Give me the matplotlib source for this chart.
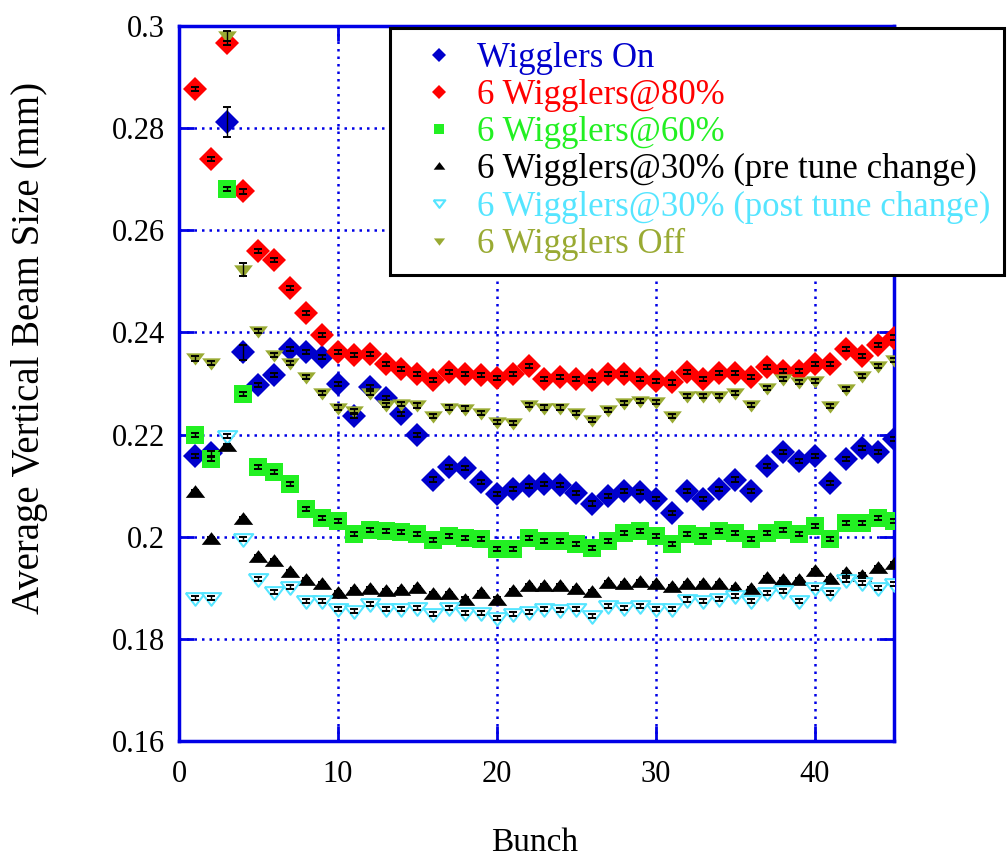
import matplotlib
matplotlib.use("Agg")
import matplotlib.pyplot as plt
import numpy as np

bunch = list(range(1, 46))

wigglers_on = [0.2158, 0.2163, 0.2812, 0.2361, 0.2297, 0.2316, 0.2367, 0.2362, 0.2351, 0.2299,
               0.2237, 0.2294, 0.2271, 0.2240, 0.2200, 0.2112, 0.2137, 0.2134, 0.2108, 0.2084,
               0.2094, 0.2099, 0.2104, 0.2101, 0.2086, 0.2065, 0.2080, 0.2090, 0.2088, 0.2073,
               0.2046, 0.2090, 0.2073, 0.2094, 0.2112, 0.2090, 0.2139, 0.2166, 0.2148, 0.2158,
               0.2105, 0.2153, 0.2173, 0.2166, 0.2191]
w80 = [0.2876, 0.2739, 0.2967, 0.2676, 0.2560, 0.2541, 0.2487, 0.2438, 0.2395, 0.2361,
       0.2356, 0.2358, 0.2338, 0.2328, 0.2318, 0.2307, 0.2322, 0.2318, 0.2316, 0.2310,
       0.2318, 0.2335, 0.2308, 0.2312, 0.2308, 0.2307, 0.2318, 0.2318, 0.2308, 0.2305,
       0.2302, 0.2322, 0.2308, 0.2320, 0.2320, 0.2312, 0.2333, 0.2325, 0.2325, 0.2338,
       0.2338, 0.2367, 0.2353, 0.2375, 0.2390]
w60 = [0.2200, 0.2152, 0.2680, 0.2279, 0.2137, 0.2127, 0.2104, 0.2055, 0.2037, 0.2031,
       0.2006, 0.2014, 0.2011, 0.2009, 0.2006, 0.1993, 0.2001, 0.1998, 0.1995, 0.1976,
       0.1976, 0.1998, 0.1992, 0.1992, 0.1985, 0.1978, 0.1992, 0.2008, 0.2011, 0.2001,
       0.1985, 0.2005, 0.2001, 0.2011, 0.2008, 0.1995, 0.2008, 0.2014, 0.2005, 0.2021,
       0.1996, 0.2027, 0.2027, 0.2037, 0.2031]
w30_pre = [0.2088, 0.1996, 0.2178, 0.2034, 0.1961, 0.1952, 0.1931, 0.1915, 0.1908, 0.1889,
           0.1895, 0.1898, 0.1893, 0.1895, 0.1900, 0.1887, 0.1887, 0.1877, 0.1889, 0.1877,
           0.1893, 0.1903, 0.1903, 0.1903, 0.1898, 0.1891, 0.1910, 0.1907, 0.1911, 0.1907,
           0.1901, 0.1907, 0.1907, 0.1907, 0.1900, 0.1897, 0.1920, 0.1916, 0.1916, 0.1933,
           0.1918, 0.1928, 0.1924, 0.1939, 0.1946]
w30_post = [0.1880, 0.1880, 0.2198, 0.1996, 0.1918, 0.1892, 0.1902, 0.1874, 0.1874, 0.1859,
            0.1854, 0.1869, 0.1858, 0.1859, 0.1861, 0.1848, 0.1861, 0.1851, 0.1851, 0.1841,
            0.1848, 0.1852, 0.1858, 0.1856, 0.1858, 0.1844, 0.1864, 0.1861, 0.1864, 0.1858,
            0.1858, 0.1877, 0.1874, 0.1878, 0.1884, 0.1874, 0.1889, 0.1893, 0.1874, 0.1900,
            0.1890, 0.1916, 0.1910, 0.1900, 0.1907]
w_off = [0.2349, 0.2340, 0.2980, 0.2523, 0.2403, 0.2356, 0.2340, 0.2312, 0.2281, 0.2253,
         0.2246, 0.2281, 0.2258, 0.2260, 0.2257, 0.2237, 0.2253, 0.2251, 0.2242, 0.2224,
         0.2222, 0.2258, 0.2253, 0.2253, 0.2243, 0.2229, 0.2248, 0.2261, 0.2266, 0.2264,
         0.2237, 0.2275, 0.2276, 0.2276, 0.2281, 0.2258, 0.2292, 0.2308, 0.2303, 0.2305,
         0.2256, 0.2290, 0.2315, 0.2335, 0.2346]

# typical error bar half-width (estimated), with the few larger ones listed
typical_err = 0.0004
large_err = {"Wigglers On": {2: 0.003, 3: 0.0015},
             "6 Wigglers Off": {2: 0.001, 3: 0.0012}}

labels = ["Wigglers On", "6 Wigglers@80%", "6 Wigglers@60%",
          "6 Wigglers@30% (pre tune change)", "6 Wigglers@30% (post tune change)",
          "6 Wigglers Off"]
series = [wigglers_on, w80, w60, w30_pre, w30_post, w_off]
colors = ["#0000cc", "#ff0000", "#22f022", "#000000", "#55e5ff", "#99aa33"]

tri_up = [(-1.0, -0.55), (1.0, -0.55), (0.0, 0.75), (-1.0, -0.55)]
tri_dn = [(-1.0, 0.55), (1.0, 0.55), (0.0, -0.75), (-1.0, 0.55)]
markers = ["D", "D", "s", tri_up, tri_dn, tri_dn]
msizes = [12.2, 12.2, 13.0, 14.0, 14.0, 13.5]
filled = [True, True, True, True, False, True]

fig = plt.figure(figsize=(10.07, 8.6), dpi=100)
ax = fig.add_axes([179/1007, 1-741/860, (894-179)/1007, (741-26)/860])

handles = []
for lab, ys, c, m, ms, f in zip(labels, series, colors, markers, msizes, filled):
    errs = [typical_err]*len(ys)
    for i, e in large_err.get(lab, {}).items():
        errs[i] = e
    ax.errorbar(bunch, ys, yerr=errs, fmt="none", ecolor="black", elinewidth=1.0,
                capsize=3, capthick=1.4, zorder=4)
    h, = ax.plot(bunch, ys, linestyle="none", marker=m, markersize=ms,
                 markerfacecolor=(c if f else "white"), markeredgecolor=c,
                 markeredgewidth=(0 if f else 1.5), zorder=3, label=lab)
    handles.append(h)

ax.set_xlim(0, 45)
ax.set_ylim(0.16, 0.30)
ax.set_xticks([0, 10, 20, 30, 40])
ax.set_yticks([0.16, 0.18, 0.20, 0.22, 0.24, 0.26, 0.28, 0.30])
ax.set_yticklabels(["0.16", "0.18", "0.2", "0.22", "0.24", "0.26", "0.28", "0.3"])

for s in ax.spines.values():
    s.set_color("#0000e6")
    s.set_linewidth(2.5)
ax.tick_params(axis="both", which="major", direction="in", length=11, width=2,
               color="#0000e6", top=True, right=True, labelsize=22)
ax.tick_params(axis="x", pad=14)
ax.tick_params(axis="y", pad=10)
for t in ax.get_xticklabels() + ax.get_yticklabels():
    t.set_family("Liberation Serif")
ax.grid(True, color="#0000e6", linestyle=(0, (1, 2)), linewidth=1.8)
ax.set_axisbelow(True)

fig.text(535/1007, 1-843/860, "Bunch", family="Liberation Serif", fontsize=24,
         ha="center", va="center")
fig.text(30/1007, 1-348/860, "Average Vertical Beam Size (mm)", family="Liberation Serif",
         fontsize=28, rotation=90, ha="center", va="center")

leg = ax.legend(handles=handles, loc="upper left",
                bbox_to_anchor=(390/1007, 1-28/860), bbox_transform=fig.transFigure,
                prop={"family": "Liberation Serif", "size": 25},
                markerscale=0.6, handlelength=2.0, handletextpad=0.1,
                labelspacing=0.12, borderpad=0.4, borderaxespad=0.0,
                fancybox=False, framealpha=1, edgecolor="black")
leg.get_frame().set_linewidth(2.2)
for txt, c in zip(leg.get_texts(), colors):
    txt.set_color(c)
leg.set_zorder(10)

fig.savefig("out.png", dpi=100)
